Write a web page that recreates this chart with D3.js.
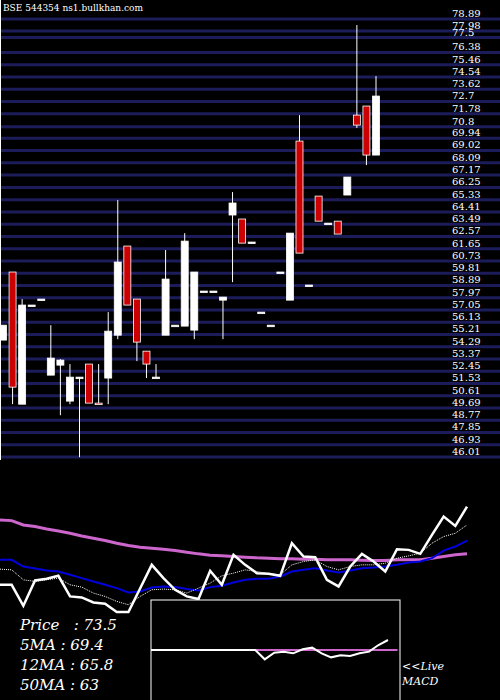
<!DOCTYPE html>
<html><head><meta charset="utf-8">
<script src="https://cdn.jsdelivr.net/npm/d3@7"></script>
<style>body{margin:0;background:#000}svg{display:block}</style>
</head><body>
<script>
// price labels on the right
const priceTicks = [78.89,77.98,77.5,76.38,75.46,74.54,73.62,72.7,71.78,70.8,69.94,69.02,68.09,67.17,66.25,65.33,64.41,63.49,62.57,61.65,60.73,59.81,58.89,57.97,57.05,56.13,55.21,54.29,53.37,52.45,51.53,50.61,49.69,48.77,47.85,46.93,46.01];
// candles: open, high, low, close
const opens  = [54.41,59.52,49.60,57.04,57.49,51.78,52.53,49.83,51.63,52.61,49.68,51.56,54.78,61.47,57.49,53.58,51.63,54.78,55.53,55.46,55.16,58.09,58.09,57.41,63.80,63.50,61.77,56.51,55.53,59.52,57.41,69.35,58.54,65.22,63.19,63.34,65.30,71.30,71.98,68.30];
const highs  = [55.53,59.52,57.49,57.04,57.49,55.53,52.98,52.61,51.63,52.61,52.61,56.51,64.92,61.47,57.49,53.58,52.61,61.17,55.53,62.44,59.52,58.09,58.09,57.64,65.52,63.50,61.77,56.51,55.53,59.52,62.44,71.30,58.54,65.22,63.19,63.34,66.65,78.06,71.98,74.23];
const lows   = [54.41,49.60,49.60,57.04,57.49,51.78,48.77,49.60,45.62,49.68,49.60,49.60,54.48,57.04,52.83,51.56,51.63,54.78,55.53,55.46,54.48,58.09,58.09,54.48,58.76,61.69,61.77,56.51,55.53,59.52,57.41,60.94,58.54,63.34,63.19,62.37,65.30,70.33,67.55,68.30];
const closes = [55.53,50.88,57.04,57.04,57.49,53.06,52.91,51.63,51.63,49.68,49.60,55.08,60.27,57.04,54.26,52.61,51.63,58.99,55.53,61.84,59.52,58.09,58.09,57.64,64.70,61.69,61.77,56.51,55.53,59.52,62.44,60.94,58.54,63.34,63.19,62.37,66.65,70.55,68.30,72.73];
// lower panel (panel units)
const priceLine = [145,145,82,158,163,172,110,107,92,88,63,63,134,205,165,130,110,102,187,145,235,205,180,178,172,270,230,228,160,140,200,238,215,185,252,250,238,295,350,322,380];
const ma5  = [192,190,160,155,160,165,145,138,120,110,95,85,110,130,132,130,120,135,150,172,180,190,185,178,175,205,215,220,200,190,200,205,205,210,225,232,240,270,290,300,325];
const ma12 = [220,220,200,194,188,185,175,165,155,145,135,122,125,137,140,138,132,128,138,142,152,160,163,163,170,185,190,195,188,182,188,195,197,200,205,212,215,225,248,260,278];
const ma50 = [340,338,325,320,313,307,300,292,285,278,270,263,258,255,252,248,243,238,234,232,230,228,226,225,223,223,222,222,220,220,220,219,218,218,220,220,220,225,230,235,238];
const macd   = [0,0,0,0,0,0,0,0,0,0,0,0,-28,-8,-5,-10,2,7,-10,-22,-16,-18,-10,-5,15,30];
const signal = [null,null,null,null,null,null,null,null,null,null,null,0,0,0,0,0,0,0,0,0,0,0,0,0,0,0,0];
const infoLabels = ["Price   : 73.5","5MA : 69.4","12MA : 65.8","50MA : 63"];

const W = 500, H = 700;
const svg = d3.select("body").append("svg").attr("width", W).attr("height", H).style("background", "#000");

const y = d3.scaleLinear().domain([46.01, 78.89]).range([452, 14]);
const x = d3.scaleLinear().domain([0, closes.length - 1]).range([3, 376]);

// grid lines + labels
svg.append("g").selectAll("line").data(priceTicks).join("line")
  .attr("x1", 0).attr("x2", W).attr("y1", d => y(d) + 5).attr("y2", d => y(d) + 5)
  .attr("stroke", "#1c1c5a").attr("stroke-width", 3);
svg.append("g").selectAll("text").data(priceTicks).join("text")
  .attr("x", 452).attr("y", d => y(d) + 3)
  .attr("fill", "#fff").attr("font-family", "DejaVu Serif, serif").attr("font-size", 10)
  .text(d => d);
svg.append("text").attr("x", 3).attr("y", 11).attr("fill", "#fff")
  .attr("font-family", "DejaVu Serif, serif").attr("font-size", 9).text("BSE 544354  ns1.bullkhan.com");
svg.append("line").attr("x1", 0.5).attr("x2", 0.5).attr("y1", 0).attr("y2", 460).attr("stroke", "#fff");

// candles
const c = svg.append("g").selectAll("g").data(closes.map((d, i) => i)).join("g");
c.append("line").attr("x1", i => x(i)).attr("x2", i => x(i))
  .attr("y1", i => y(highs[i])).attr("y2", i => y(lows[i])).attr("stroke", "#fff");
c.append("rect").attr("x", i => x(i) - 3.5).attr("width", 7)
  .attr("y", i => y(Math.max(opens[i], closes[i])))
  .attr("height", i => Math.max(1.5, Math.abs(y(opens[i]) - y(closes[i]))))
  .attr("fill", i => closes[i] < opens[i] ? "#cc0000" : "#fff")
  .attr("stroke", "#fff").attr("stroke-width", 0.8);

// lower panel
const lx = d3.scaleLinear().domain([0, priceLine.length - 1]).range([0, 467]);
const ly = d3.scaleLinear().domain([0, 400]).range([633, 500]);
const ln = d3.line().x((d, i) => lx(i)).y(d => ly(d));
svg.append("path").attr("d", ln(ma50)).attr("fill", "none").attr("stroke", "#cc66cc").attr("stroke-width", 3);
svg.append("path").attr("d", ln(ma12)).attr("fill", "none").attr("stroke", "#0000dd").attr("stroke-width", 2);
svg.append("path").attr("d", ln(ma5)).attr("fill", "none").attr("stroke", "#fff").attr("stroke-width", 1).attr("stroke-dasharray", "1,1");
svg.append("path").attr("d", ln(priceLine)).attr("fill", "none").attr("stroke", "#fff").attr("stroke-width", 2.5);

// MACD box
svg.append("rect").attr("x", 151).attr("y", 600).attr("width", 249).attr("height", 110)
  .attr("fill", "#000").attr("stroke", "#fff");
const mx = d3.scaleLinear().domain([0, macd.length - 1]).range([151, 388]);
const my = d3.scaleLinear().domain([-150, 150]).range([700, 600]);
svg.append("path").attr("d", d3.line().defined(d => d !== null).x((d, i) => mx(i)).y(d => my(d))(signal))
  .attr("fill", "none").attr("stroke", "#cc66cc").attr("stroke-width", 2);
svg.append("path").attr("d", d3.line().x((d, i) => mx(i)).y(d => my(d))(macd))
  .attr("fill", "none").attr("stroke", "#fff").attr("stroke-width", 2);

svg.append("g").selectAll("text").data(infoLabels).join("text")
  .attr("x", 20).attr("y", (d, i) => 630 + i * 20)
  .attr("fill", "#fff").attr("font-family", "DejaVu Serif, serif").attr("font-style", "italic").attr("font-size", 15)
  .text(d => d).attr("xml:space", "preserve").style("white-space", "pre");
svg.append("text").attr("x", 402).attr("y", 670).attr("fill", "#fff")
  .attr("font-family", "DejaVu Serif, serif").attr("font-style", "italic").attr("font-size", 11).text("<<Live");
svg.append("text").attr("x", 402).attr("y", 685).attr("fill", "#fff")
  .attr("font-family", "DejaVu Serif, serif").attr("font-style", "italic").attr("font-size", 11).text("MACD");
</script>
</body></html>
